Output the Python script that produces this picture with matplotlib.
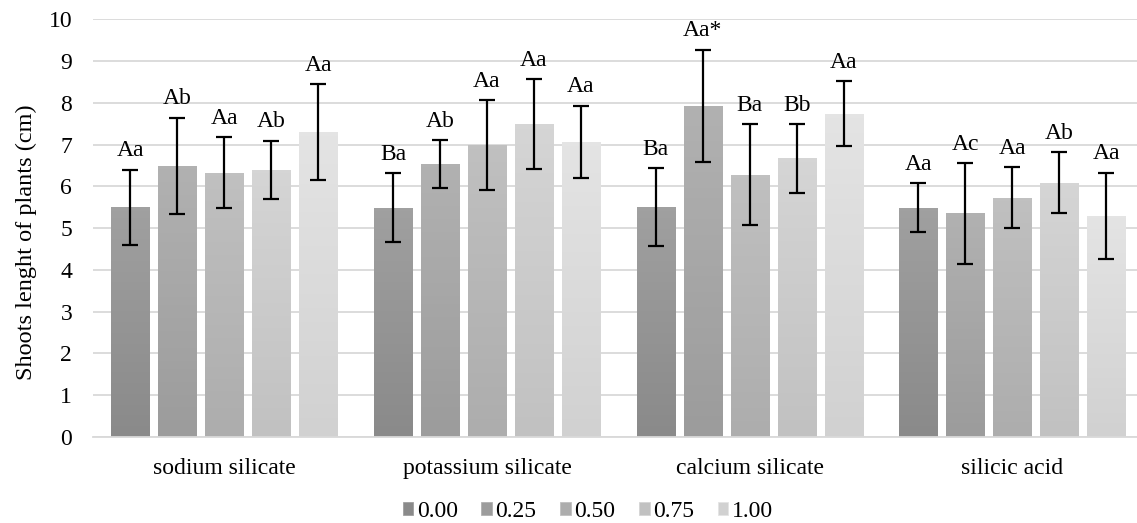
import numpy as np
import matplotlib
matplotlib.use("Agg")
import matplotlib.pyplot as plt
from matplotlib.colors import LinearSegmentedColormap
from matplotlib.patches import Patch

plt.rcParams["font.family"] = ["Liberation Serif", "DejaVu Serif"]

# data
groups = ["sodium silicate", "potassium silicate", "calcium silicate", "silicic acid"]
series = ["0.00", "0.25", "0.50", "0.75", "1.00"]

means = [
    [5.50, 6.49, 6.33, 6.39, 7.30],
    [5.49, 6.54, 6.99, 7.49, 7.06],
    [5.50, 7.93, 6.28, 6.67, 7.74],
    [5.49, 5.35, 5.73, 6.09, 5.29],
]
errs = [
    [0.90, 1.15, 0.84, 0.70, 1.15],
    [0.83, 0.57, 1.07, 1.08, 0.87],
    [0.93, 1.34, 1.20, 0.82, 0.77],
    [0.59, 1.21, 0.72, 0.72, 1.04],
]
letters = [
    ["Aa", "Ab", "Aa", "Ab", "Aa"],
    ["Ba", "Ab", "Aa", "Aa", "Aa"],
    ["Ba", "Aa*", "Ba", "Bb", "Aa"],
    ["Aa", "Ac", "Aa", "Ab", "Aa"],
]

# gradient colours (bottom, top) per series
shades = [("#8a8a8a", "#a0a0a0"), ("#9c9c9c", "#b1b1b1"), ("#adadad", "#c0c0c0"),
          ("#c1c1c1", "#d5d5d5"), ("#d1d1d1", "#e4e4e4")]

fig = plt.figure(figsize=(11.37, 5.23), dpi=100)
# plot area runs a little past the right edge, as in the reference
ax = fig.add_axes([0.0818, 0.1644, 0.924, 0.799])

step = 0.179
width = 0.145
x = np.arange(len(groups))
grad = np.linspace(0, 1, 64).reshape(-1, 1)

for i, s in enumerate(series):
    pos = x + (i - 2) * step
    vals = [m[i] for m in means]
    ers = [e[i] for e in errs]
    bars = ax.bar(pos, vals, width, color=shades[i][0], edgecolor=shades[i][1],
                  linewidth=0.6, zorder=2)
    cmap = LinearSegmentedColormap.from_list("g%d" % i, [shades[i][0], shades[i][1]])
    for b in bars:
        x0, y0 = b.get_x(), b.get_y()
        im = ax.imshow(grad, cmap=cmap, origin="lower", aspect="auto",
                       extent=[x0, x0 + b.get_width(), y0, y0 + b.get_height()],
                       zorder=2.1)
        im.set_clip_path(b)
    ax.errorbar(pos, vals, yerr=ers, fmt="none", ecolor="black", elinewidth=1.6,
                capsize=6, capthick=1.6, zorder=3)
    for g in range(len(groups)):
        ax.annotate(letters[g][i], (pos[g], vals[g] + ers[g]), xytext=(0, 6),
                    textcoords="offset points", ha="center", va="bottom",
                    fontsize=17, zorder=4)

ax.set_xlim(-0.5, len(groups) - 0.5)
ax.set_ylim(0, 10)
ax.set_yticks(range(0, 11))
ax.set_xticks(x)
ax.set_xticklabels(groups)
ax.tick_params(axis="both", length=0, labelsize=17)
ax.tick_params(axis="x", pad=15)
ax.tick_params(axis="y", pad=15)
ax.grid(axis="y", color="#d9d9d9", linewidth=1.3, zorder=0)
ax.set_axisbelow(True)
for sp in ["top", "right", "left"]:
    ax.spines[sp].set_visible(False)
ax.spines["bottom"].set_color("#d9d9d9")
ax.spines["bottom"].set_linewidth(1.3)
fig.text(26 / 1137, 1 - 242 / 523, "Shoots lenght of plants (cm)", rotation=90,
         ha="center", va="center", fontsize=17.5)

handles = [Patch(facecolor=c[0], edgecolor=c[1], linewidth=0.6) for c in shades]
fig.legend(handles, series, loc="lower center", bbox_to_anchor=(0.517, 0.002),
           ncol=5, frameon=False, fontsize=17, handlelength=0.45, handleheight=0.45,
           handletextpad=0.15, columnspacing=1.0, borderpad=0.0, borderaxespad=0.0)

fig.savefig("out.png", dpi=100)
